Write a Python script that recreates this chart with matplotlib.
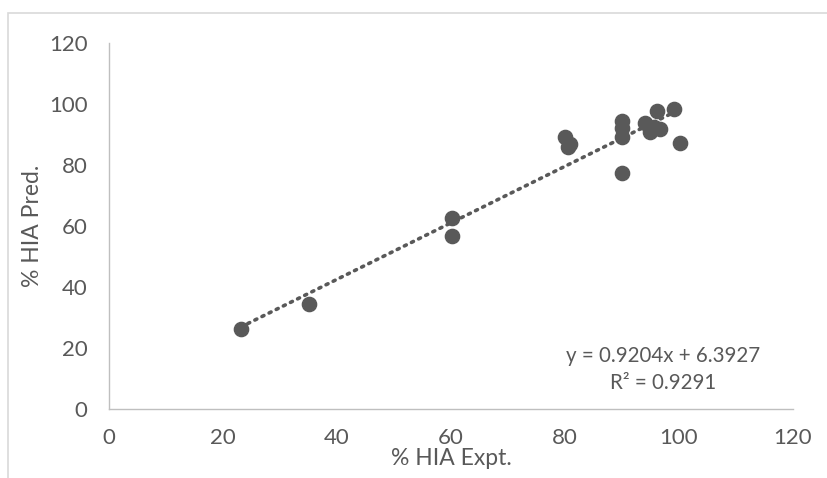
import matplotlib.pyplot as plt
import matplotlib.patches as patches
import numpy as np

plt.rcParams['font.family'] = ['Lato', 'DejaVu Sans']

# % HIA experimental vs predicted
hia_expt = [23.1, 35.1, 60.1, 60.1, 80.0, 80.5, 80.9, 90.0, 90.0, 90.0, 90.0,
            94.0, 95.0, 95.6, 96.6, 96.1, 99.1, 100.1]
hia_pred = [26.2, 34.4, 62.5, 56.8, 89.1, 86.0, 86.8, 94.5, 92.0, 89.3, 77.5,
            93.9, 90.8, 92.3, 91.9, 97.8, 98.3, 87.3]

eq_text = "y = 0.9204x + 6.3927"
r2_text = "R² = 0.9291"

grey = "#595959"

fig = plt.figure(figsize=(8.28, 4.78), dpi=100)
ax = fig.add_axes([0.1316, 0.1444, 0.8261, 0.7656])

# outer chart border (cut off on the right and bottom like the original)
fig.patches.append(patches.Rectangle((8 / 828, -0.1), 1.2, 1 - 13 / 478 + 0.1,
                                     transform=fig.transFigure, fill=False,
                                     edgecolor="#d9d9d9", linewidth=1.2))

ax.scatter(hia_expt, hia_pred, s=105, color=grey, zorder=3)

# linear trendline
m, b = np.polyfit(hia_expt, hia_pred, 1)
xs = np.array([min(hia_expt), max(hia_expt)])
ax.plot(xs, m * xs + b, linestyle=(0, (0.6, 1.6)), color=grey, linewidth=2.6,
        dash_capstyle="round", zorder=2)

ax.set_xlim(0, 120)
ax.set_ylim(0, 120)
ax.set_xticks(range(0, 121, 20))
ax.set_yticks(range(0, 121, 20))
ax.tick_params(length=0, labelsize=16, colors=grey)
ax.tick_params(axis="y", pad=15.5)
ax.tick_params(axis="x", pad=14)
for s in ["top", "right"]:
    ax.spines[s].set_visible(False)
for s in ["left", "bottom"]:
    ax.spines[s].set_color("#bfbfbf")
    ax.spines[s].set_linewidth(1)

ax.set_xlabel("% HIA Expt.", fontsize=16.5, color=grey, labelpad=0)
ax.set_ylabel("% HIA Pred.", fontsize=16.5, color=grey, labelpad=4)

ax.text(0.81, 0.145, eq_text, transform=ax.transAxes, ha="center",
        va="center", fontsize=14.8, color=grey)
ax.text(0.81, 0.071, r2_text, transform=ax.transAxes, ha="center",
        va="center", fontsize=14.8, color=grey)

plt.savefig("out.png", dpi=100)
